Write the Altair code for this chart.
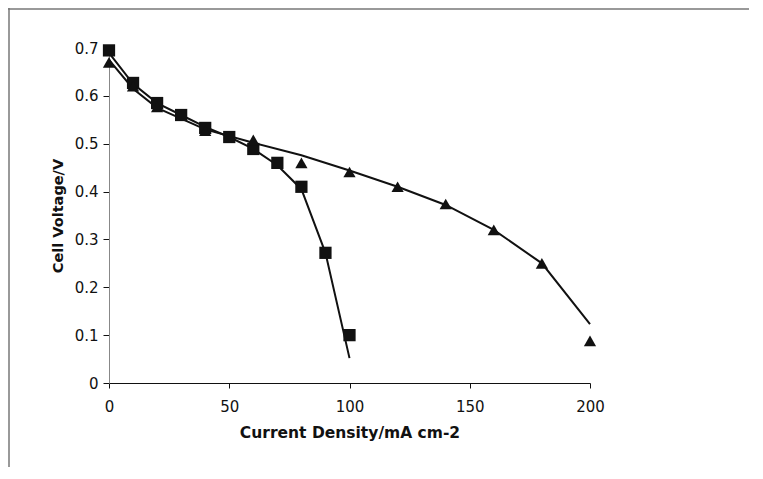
import altair as alt
import pandas as pd

# Measured points
sq_x = [0, 10, 20, 30, 40, 50, 60, 70, 80, 90, 100]
sq_y = [0.695, 0.627, 0.585, 0.560, 0.533, 0.514, 0.489, 0.460, 0.410, 0.272, 0.100]

tri_x = [0, 10, 20, 40, 60, 80, 100, 120, 140, 160, 180, 200]
tri_y = [0.670, 0.620, 0.577, 0.527, 0.508, 0.460, 0.441, 0.410, 0.374, 0.320, 0.250, 0.088]

# Fitted curves
sq_fit_x = [0, 10, 20, 30, 40, 50, 60, 70, 80, 90, 100]
sq_fit_y = [0.690, 0.625, 0.585, 0.560, 0.535, 0.514, 0.489, 0.455, 0.405, 0.272, 0.052]

tri_fit_x = [0, 10, 20, 40, 60, 80, 100, 120, 140, 160, 180, 200]
tri_fit_y = [0.675, 0.615, 0.575, 0.530, 0.502, 0.476, 0.444, 0.410, 0.372, 0.320, 0.250, 0.123]

pts_sq = pd.DataFrame({"x": sq_x, "y": sq_y})
pts_tri = pd.DataFrame({"x": tri_x, "y": tri_y})
fit_sq = pd.DataFrame({"x": sq_fit_x, "y": sq_fit_y})
fit_tri = pd.DataFrame({"x": tri_fit_x, "y": tri_fit_y})

FONT = "DejaVu Sans"

xscale = alt.Scale(domain=[0, 200], nice=False, zero=True)
yscale = alt.Scale(domain=[0, 0.7], nice=False, zero=True)

xaxis = alt.Axis(
    values=[0, 50, 100, 150, 200], title="Current Density/mA cm-2", grid=False,
    domainColor="#111111", tickColor="#111111", tickSize=5, labelPadding=11,
    labelFontSize=15, labelFont=FONT, labelColor="#111111",
    titleFont=FONT, titleFontSize=15.5, titleFontWeight="bold", titleColor="#111111",
    titlePadding=11, labelFlush=False,
)
yaxis = alt.Axis(
    values=[0, 0.1, 0.2, 0.3, 0.4, 0.5, 0.6, 0.7], title="Cell Voltage/V", grid=False,
    format="~g", domainColor="#888888", tickColor="#111111", tickSize=6, labelPadding=5,
    labelFontSize=15, labelFont=FONT, labelColor="#111111",
    titleFont=FONT, titleFontSize=14.5, titleFontWeight="bold", titleColor="#111111",
    titlePadding=9, labelFlush=False,
)

x = alt.X("x:Q", scale=xscale, axis=xaxis)
y = alt.Y("y:Q", scale=yscale, axis=yaxis)

line_sq = alt.Chart(fit_sq).mark_line(color="#111111", strokeWidth=2, clip=False).encode(x=x, y=y)
line_tri = alt.Chart(fit_tri).mark_line(color="#111111", strokeWidth=2, clip=False).encode(
    x=alt.X("x:Q", scale=xscale), y=alt.Y("y:Q", scale=yscale))
p_sq = alt.Chart(pts_sq).mark_point(shape="square", filled=True, size=150, color="#111111", opacity=1).encode(
    x=alt.X("x:Q", scale=xscale), y=alt.Y("y:Q", scale=yscale))
p_tri = alt.Chart(pts_tri).mark_point(shape="triangle-up", filled=True, size=150, color="#111111", opacity=1).encode(
    x=alt.X("x:Q", scale=xscale), y=alt.Y("y:Q", scale=yscale))

deco = pd.DataFrame({"a": [0]})
frame_top = alt.Chart(deco).mark_rule(stroke="#777777", strokeWidth=1.5, clip=False).encode(
    x=alt.value(-101), x2=alt.value(640), y=alt.value(-39))
frame_left = alt.Chart(deco).mark_rule(stroke="#777777", strokeWidth=1.5, clip=False).encode(
    x=alt.value(-100), y=alt.value(-40), y2=alt.value(420))

chart = alt.layer(frame_top, frame_left, line_sq, line_tri, p_sq, p_tri).properties(
    width=481, height=335,
    autosize=alt.AutoSizeParams(type="none"),
    padding={"left": 101, "top": 40, "right": 165, "bottom": 84},
    background="white",
).configure_view(stroke=None)

chart.save("out.html", embed_options={"renderer": "svg", "actions": False})
